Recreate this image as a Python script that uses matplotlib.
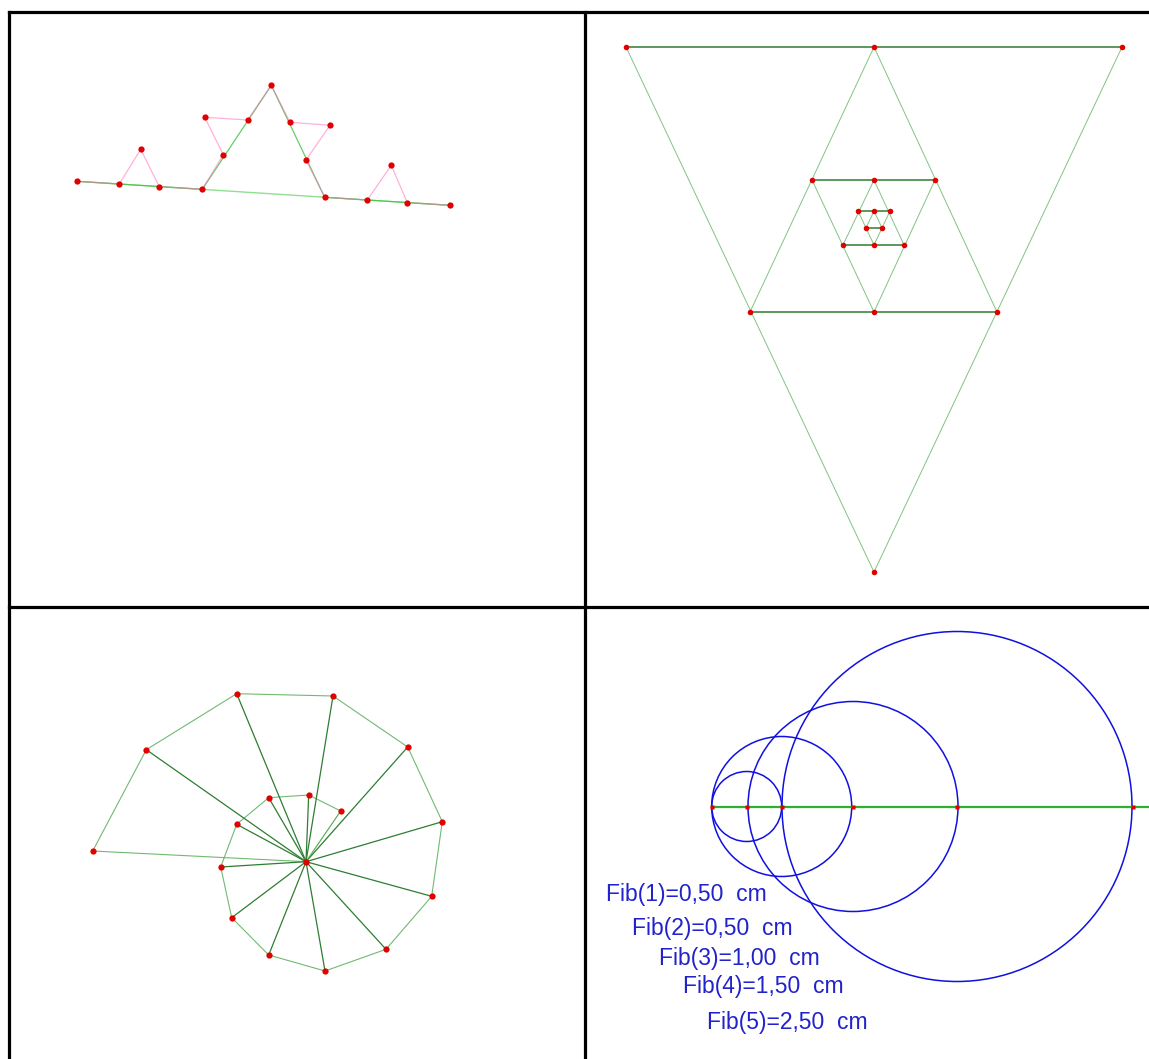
import numpy as np
import matplotlib
matplotlib.use('Agg')
import matplotlib.pyplot as plt
from matplotlib.patches import Circle

# ---------- data (pixel coordinates) ----------
# panel 1: Koch curve, base segment, level 1 and level 2 paths
koch_base_x = [76.7, 450.0]
koch_base_y = [181.3, 205.3]
koch1_x = [76.7, 202.3, 271.3, 324.7, 450.0]
koch1_y = [181.3, 189.3, 85.3, 197.3, 205.3]
koch2_x = [76.7, 119.3, 140.7, 159.3, 202.3, 223.3, 204.7, 247.7, 271.3,
           290.0, 330.0, 306.0, 324.7, 367.3, 391.3, 407.3, 450.0]
koch2_y = [181.3, 184.0, 149.3, 186.7, 189.3, 154.7, 117.3, 120.0, 85.3,
           122.3, 125.3, 160.0, 197.3, 200.0, 165.3, 202.7, 205.3]

# panel 2: nested triangles (left, right, apex)
tri_x = [[626, 1122, 874], [750, 997, 874], [812, 935, 874],
         [843, 904, 874], [858, 890, 874], [866, 882, 874]]
tri_y = [[47, 47, 572], [312, 312, 47], [180, 180, 312],
         [245, 245, 180], [211, 211, 245], [228, 228, 211]]
tri_dots_x = [626, 874, 1122, 750, 874, 997, 874, 812, 874, 935,
              858, 874, 890, 866, 882, 843, 874, 904]
tri_dots_y = [47, 47, 47, 312, 312, 312, 572, 180, 180, 180,
              211, 211, 211, 228, 228, 245, 245, 245]

# panel 3: spiral polygon around a centre
spiral_cx, spiral_cy = 306.0, 861.7
spiral_x = [340.7, 308.7, 268.7, 236.7, 220.7, 231.7, 268.7, 325.0,
            386.0, 431.7, 442.3, 407.7, 333.0, 236.7, 146.3, 92.7]
spiral_y = [811.0, 795.0, 797.7, 824.3, 867.0, 917.7, 955.0, 971.0,
            949.3, 896.3, 821.7, 747.0, 696.0, 693.7, 749.7, 851.0]

# panel 4: Fibonacci circles
fib_axis_y = 806.5
fib_pts_x = [711.7, 746.7, 781.7, 853.0, 957.0, 1133.0]
fib_radius = [35, 70, 105, 175]
fib_labels = ['Fib(1)=0,50  cm', 'Fib(2)=0,50  cm', 'Fib(3)=1,00  cm',
              'Fib(4)=1,50  cm', 'Fib(5)=2,50  cm']
fib_label_x = [606, 632, 659, 683, 707]
fib_label_y = [895, 929, 958, 987, 1023]

RED = '#e00000'
LGREEN = '#4fa84f'
DGREEN = '#2e7d32'
BLUE = '#1010e0'

fig = plt.figure(figsize=(11.49, 10.59), dpi=100)
ax = fig.add_axes([0, 0, 1, 1])
ax.set_xlim(0, 1149)
ax.set_ylim(1059, 0)
ax.axis('off')

# frame
ax.plot([9, 1149], [12, 12], color='black', lw=2.3, solid_capstyle='projecting')
ax.plot([9, 1149], [607, 607], color='black', lw=2.3)
ax.plot([9, 9], [12, 1059], color='black', lw=2.3)
ax.plot([585, 585], [12, 1059], color='black', lw=2.3)

#%% panel 1
ax.plot(koch_base_x, koch_base_y, color='#90e090', lw=1.0)
ax.plot(koch1_x, koch1_y, color='#40c040', lw=0.9, alpha=0.8)
ax.plot(koch2_x, koch2_y, color='#ff70c0', lw=0.9, alpha=0.55)
ax.plot(koch2_x, koch2_y, 'o', color=RED, ms=4.5, mec='none')

#%% panel 2
for xs, ys in zip(tri_x, tri_y):
    ax.plot([xs[0], xs[2], xs[1]], [ys[0], ys[2], ys[1]], color=LGREEN, lw=0.7, alpha=0.7)
    ax.plot(xs[:2], ys[:2], color=DGREEN, lw=1.3, alpha=0.85)
ax.plot(tri_dots_x, tri_dots_y, 'o', color=RED, ms=4, mec='none')

#%% panel 3
ax.plot(spiral_x + [spiral_cx], spiral_y + [spiral_cy], color=LGREEN, lw=0.8, alpha=0.8)
for x, y in zip(spiral_x[1:-1], spiral_y[1:-1]):
    ax.plot([spiral_cx, x], [spiral_cy, y], color=DGREEN, lw=0.9)
ax.plot([spiral_cx, spiral_x[0]], [spiral_cy, spiral_y[0]], color=LGREEN, lw=0.8)
ax.plot(spiral_x + [spiral_cx], spiral_y + [spiral_cy], 'o', color=RED, ms=4.5, mec='none')

#%% panel 4
ax.plot([fib_pts_x[0], 1149], [fib_axis_y, fib_axis_y], color='#30b030', lw=1.6)
for i, r in enumerate(fib_radius):
    ax.add_patch(Circle((fib_pts_x[i + 1], fib_axis_y), r, fill=False,
                        edgecolor=BLUE, lw=1.1))
ax.plot(fib_pts_x, [fib_axis_y] * len(fib_pts_x), 's', color=RED, ms=3, mec='none')
for lab, x, y in zip(fib_labels, fib_label_x, fib_label_y):
    ax.text(x, y, lab, color='#2222cc', fontsize=16.5, family='Liberation Sans',
            ha='left', va='center')

fig.savefig('out.png', dpi=100)
